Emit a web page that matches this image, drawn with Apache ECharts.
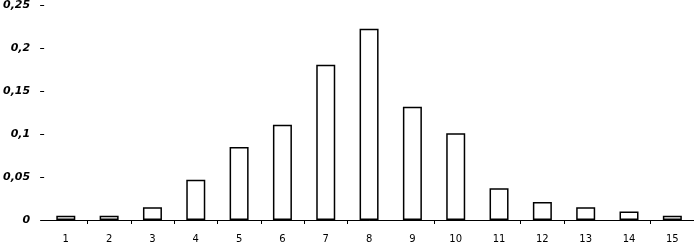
<!DOCTYPE html>
<html>
<head>
<meta charset="utf-8">
<script src="https://cdn.jsdelivr.net/npm/echarts@6/dist/echarts.min.js"></script>
<style>
html,body{margin:0;padding:0;background:#fff;}
#chart{width:694px;height:244px;}
</style>
</head>
<body>
<div id="chart"></div>
<script>
var categories = ['1','2','3','4','5','6','7','8','9','10','11','12','13','14','15'];
var values = [0.005, 0.005, 0.015, 0.047, 0.085, 0.111, 0.181, 0.223, 0.132, 0.101, 0.037, 0.021, 0.015, 0.010, 0.005];
var yTicks = [0, 0.05, 0.1, 0.15, 0.2, 0.25];
// boundaries (tick index) where the x tick mark is not drawn in the reference
var hiddenXTicks = [0, 8, 10, 13];

var chart = echarts.init(document.getElementById('chart'));
chart.setOption({
  animation: false,
  backgroundColor: '#ffffff',
  grid: { left: 44, right: -12, top: 5, bottom: 24, containLabel: false },
  xAxis: {
    type: 'category',
    data: categories,
    boundaryGap: true,
    axisLine: { show: true, lineStyle: { color: '#000', width: 1 } },
    axisTick: {
      show: true, length: 4, inside: false,
      lineStyle: { color: '#000', width: 1 },
      interval: function (idx) { return hiddenXTicks.indexOf(idx) < 0; }
    },
    axisLabel: { color: '#000', fontFamily: 'DejaVu Sans, sans-serif', fontSize: 10, margin: 14 },
    splitLine: { show: false }
  },
  yAxis: {
    type: 'value',
    min: yTicks[0],
    max: yTicks[yTicks.length - 1],
    interval: 0.05,
    axisLine: { show: false },
    axisTick: { show: true, length: 4, lineStyle: { color: '#000', width: 1 } },
    axisLabel: {
      color: '#000', fontFamily: 'DejaVu Sans, sans-serif', fontSize: 11,
      fontWeight: 'bold', fontStyle: 'italic', margin: 14,
      formatter: function (v) { return String(+v.toFixed(2)).replace('.', ','); }
    },
    splitLine: { show: false }
  },
  series: [{
    type: 'bar',
    data: values,
    barWidth: 19,
    itemStyle: { color: '#ffffff', borderColor: '#000000', borderWidth: 1.5 }
  }]
});
</script>
</body>
</html>
